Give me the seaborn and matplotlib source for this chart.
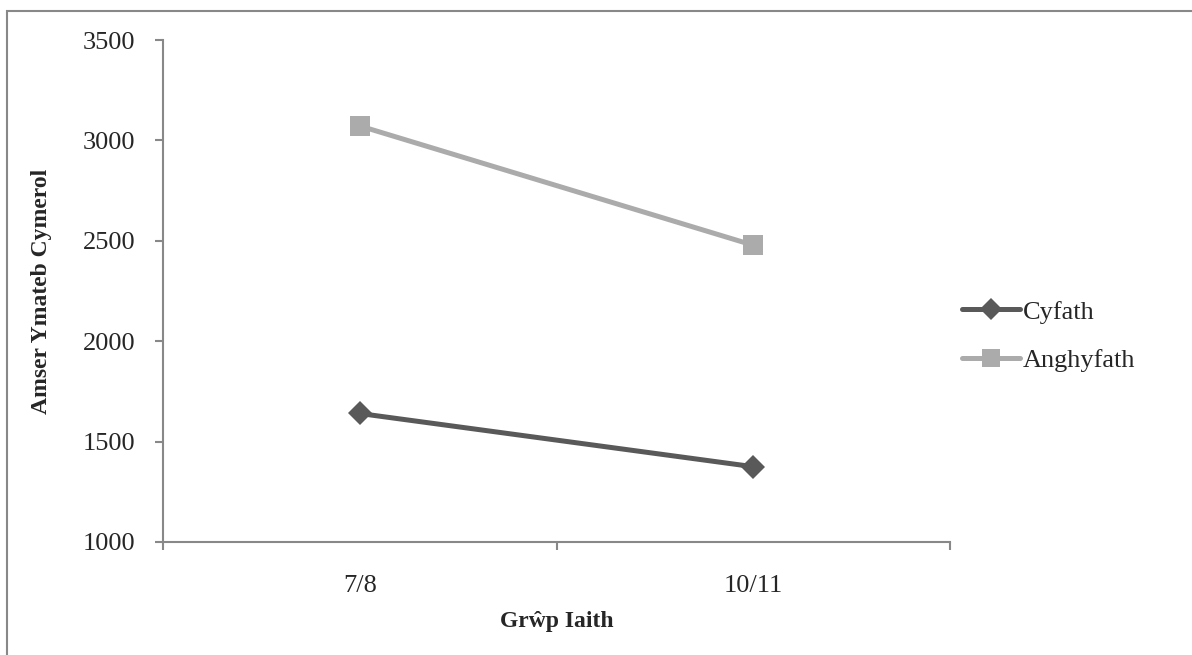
import matplotlib
matplotlib.use("Agg")
import matplotlib.pyplot as plt
import seaborn as sns
import pandas as pd
from matplotlib.patches import Rectangle
from matplotlib.lines import Line2D

groups = ["7/8", "10/11"]
cyfath = [1640, 1375]
anghyfath = [3072, 2478]
series_names = ["Cyfath", "Anghyfath"]
yticks = [1000, 1500, 2000, 2500, 3000, 3500]

sns.set_theme(style="white")
plt.rcParams["font.family"] = ["Liberation Serif", "DejaVu Serif"]

df = pd.DataFrame({
    "group": groups * 2,
    "value": cyfath + anghyfath,
    "series": [series_names[0]] * 2 + [series_names[1]] * 2,
})

colors = {"Cyfath": "#595959", "Anghyfath": "#ABABAB"}
markers = {"Cyfath": "D", "Anghyfath": "s"}
msizes = {"Cyfath": 12, "Anghyfath": 14.5}

fig = plt.figure(figsize=(11.92, 6.55), dpi=100)
ax = fig.add_axes([163/1192, 113/655, (950-163)/1192, (542-40)/655])

for name in series_names:
    sub = df[df["series"] == name]
    sns.lineplot(data=sub, x="group", y="value", ax=ax, color=colors[name],
                 marker=markers[name], markersize=msizes[name], linewidth=3.6,
                 markeredgewidth=0, label=name, sort=False)

ax.set_xlim(-0.5, 1.5)
ax.set_ylim(1000, 3500)
ax.set_yticks(yticks)
ax.set_yticklabels([str(t) for t in yticks], fontsize=19)
ax.set_xticks([0, 1])
ax.set_xticklabels(groups, fontsize=19)
ax.set_xticks([-0.5, 0.5, 1.5], minor=True)
ax.tick_params(axis="x", which="major", length=0, pad=24)
ax.tick_params(axis="x", which="minor", length=6, width=1.5, color="#888888", direction="out", bottom=True)
ax.tick_params(axis="y", length=6, width=1.5, color="#888888", direction="out", left=True, pad=14)
for s in ["top", "right"]:
    ax.spines[s].set_visible(False)
for s in ["left", "bottom"]:
    ax.spines[s].set_color("#888888")
    ax.spines[s].set_linewidth(1.5)

ax.set_xlabel("Grŵp Iaith", fontsize=17, fontweight="bold", labelpad=10)
ax.set_ylabel("Amser Ymateb Cymerol", fontsize=17, fontweight="bold", labelpad=22)

handles = [Line2D([], [], color=colors[n], marker=markers[n], markersize=msizes[n] * 0.9,
                  linewidth=3.6, markeredgewidth=0) for n in series_names]
leg = ax.legend(handles, series_names, loc="center left", bbox_to_anchor=(1.015, 0.41),
                frameon=False, fontsize=19, handlelength=2.2, handletextpad=0.1,
                labelspacing=0.95, borderpad=0, borderaxespad=0)

fig.patches.append(Rectangle((7/1192, -0.05), 1.1, 1 - 11/655 + 0.05,
                             transform=fig.transFigure, fill=False,
                             edgecolor="#888888", linewidth=1.5))

fig.savefig("out.png", dpi=100)
